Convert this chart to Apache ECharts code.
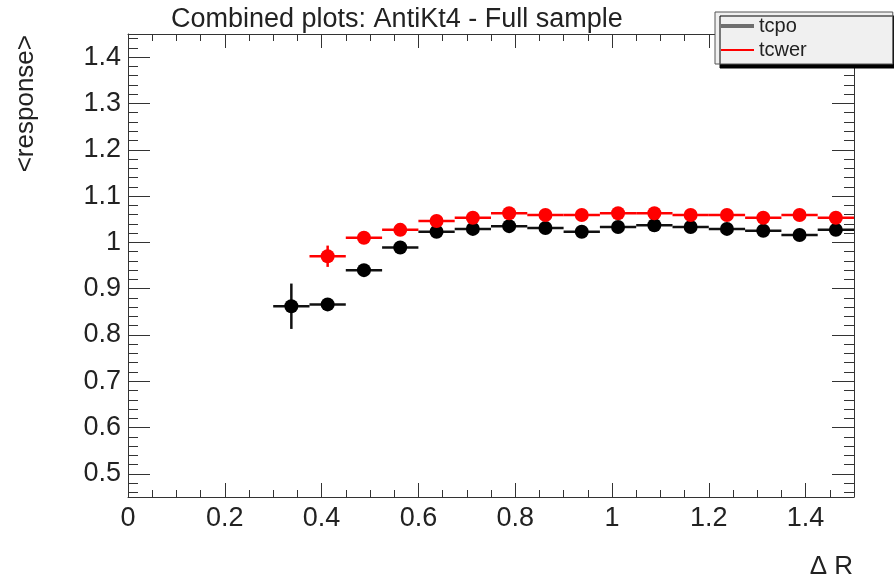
<!DOCTYPE html>
<html>
<head>
<meta charset="utf-8">
<script src="https://cdn.jsdelivr.net/npm/echarts@6/dist/echarts.min.js"></script>
<style>
  html, body { margin: 0; padding: 0; background: #fff; }
  #chart { width: 894px; height: 581px; }
</style>
</head>
<body>
<div id="chart"></div>
<script>
// bins in Delta R, width 0.075
var binCenters = [0.3375, 0.4125, 0.4875, 0.5625, 0.6375, 0.7125, 0.7875, 0.8625,
                  0.9375, 1.0125, 1.0875, 1.1625, 1.2375, 1.3125, 1.3875, 1.4625];
var binHalfWidth = 0.0375;

var tcpo    = [0.862, 0.866, 0.940, 0.989, 1.023, 1.029, 1.035, 1.031,
               1.023, 1.033, 1.037, 1.033, 1.029, 1.025, 1.016, 1.027];
var tcpoErr = [0.049, 0.007, 0.006, 0.006, 0.005, 0.005, 0.005, 0.005,
               0.005, 0.005, 0.005, 0.005, 0.005, 0.005, 0.005, 0.005];

var tcwer    = [null, 0.970, 1.010, 1.027, 1.046, 1.053, 1.063, 1.059,
                1.059, 1.063, 1.063, 1.059, 1.059, 1.053, 1.059, 1.053];
var tcwerErr = [null, 0.023, 0.008, 0.006, 0.005, 0.005, 0.005, 0.005,
                0.005, 0.005, 0.005, 0.005, 0.005, 0.005, 0.005, 0.005];

var FONT = "'Liberation Sans', Arial, Helvetica, sans-serif";
var AXIS_COLOR = "#333";

function pointData(vals, errs) {
  var out = [];
  for (var i = 0; i < vals.length; i++) {
    if (vals[i] == null) continue;
    out.push([binCenters[i], vals[i], errs[i]]);
  }
  return out;
}

// horizontal bar = bin width, vertical bar = error
function errorBars(color) {
  return function (params, api) {
    var x = api.value(0), y = api.value(1), e = api.value(2);
    var a = api.coord([x - binHalfWidth, y]);
    var b = api.coord([x + binHalfWidth, y]);
    var c = api.coord([x, y - e]);
    var d = api.coord([x, y + e]);
    return {
      type: "group",
      children: [
        { type: "line", shape: { x1: a[0], y1: a[1], x2: b[0], y2: b[1] },
          style: { stroke: color, lineWidth: 2.5 } },
        { type: "line", shape: { x1: c[0], y1: c[1], x2: d[0], y2: d[1] },
          style: { stroke: color, lineWidth: 2.5 } }
      ]
    };
  };
}

function majorX(pos, labels) {
  return {
    gridIndex: 0, type: "value", position: pos, min: 0, max: 1.5, interval: 0.2,
    axisLine: { show: true, onZero: false, lineStyle: { color: AXIS_COLOR, width: 1 } },
    axisTick: { show: true, inside: true, length: 14, lineStyle: { color: AXIS_COLOR } },
    axisLabel: {
      show: labels, showMaxLabel: false, margin: 8,
      color: "#222", fontSize: 27, fontFamily: FONT
    },
    splitLine: { show: false }
  };
}
function minorX(pos) {
  return {
    gridIndex: 1, type: "value", position: pos, min: 0, max: 1.5, interval: 0.05,
    axisLine: { show: false, onZero: false },
    axisTick: { show: true, inside: true, length: 7, lineStyle: { color: AXIS_COLOR } },
    axisLabel: { show: false },
    splitLine: { show: false }
  };
}
function majorY(pos, labels) {
  return {
    gridIndex: 0, type: "value", position: pos, min: 0.45, max: 1.45, splitNumber: 10,
    axisLine: { show: true, onZero: false, lineStyle: { color: AXIS_COLOR, width: 1 } },
    axisTick: { show: true, inside: true, length: 22, lineStyle: { color: AXIS_COLOR } },
    axisLabel: {
      show: labels, showMinLabel: false, showMaxLabel: false, margin: 7,
      color: "#222", fontSize: 27, fontFamily: FONT,
      formatter: function (v) {
        return Math.abs(v * 10 - Math.round(v * 10)) < 1e-6 ? String(+v.toFixed(1)) : "";
      }
    },
    splitLine: { show: false }
  };
}
function minorY(pos) {
  return {
    gridIndex: 1, type: "value", position: pos, min: 0.45, max: 1.45, splitNumber: 50,
    axisLine: { show: false, onZero: false },
    axisTick: { show: true, inside: true, length: 10, lineStyle: { color: AXIS_COLOR } },
    axisLabel: { show: false },
    splitLine: { show: false }
  };
}

var chart = echarts.init(document.getElementById("chart"));

var option = {
  animation: false,
  backgroundColor: "#fff",
  title: {
    text: "Combined plots: AntiKt4 - Full sample",
    left: 166, top: 1,
    textStyle: { fontSize: 27, fontWeight: "normal", color: "#222", fontFamily: FONT }
  },
  legend: {
    orient: "vertical",
    left: 715, top: 12,
    padding: [4, 86, 4, 6],
    itemGap: 4,
    itemWidth: 33, itemHeight: 14,
    symbolKeepAspect: true,
    backgroundColor: "#f0f0f0",
    borderColor: "#555", borderWidth: 1,
    shadowColor: "#000", shadowBlur: 0, shadowOffsetX: 5, shadowOffsetY: 4,
    textStyle: { fontSize: 20, color: "#222", fontFamily: FONT },
    data: [
      { name: "tcpo", icon: "path://M0,0L33,0L33,4L0,4Z", itemStyle: { color: "#6e6e6e" } },
      { name: "tcwer", icon: "path://M0,0L33,0L33,2L0,2Z", itemStyle: { color: "#ff0000" } }
    ]
  },
  grid: [
    { left: 128, top: 34, width: 726, height: 463, containLabel: false },
    { left: 128, top: 34, width: 726, height: 463, containLabel: false }
  ],
  xAxis: [majorX("bottom", true), majorX("top", false), minorX("bottom"), minorX("top")],
  yAxis: [majorY("left", true), majorY("right", false), minorY("left"), minorY("right")],
  graphic: [
    {
      type: "text", x: 26, y: 35, rotation: Math.PI / 2,
      style: { text: "<response>", font: "26px " + FONT, fill: "#222",
               textAlign: "right", textVerticalAlign: "middle" }
    },
    {
      type: "text", x: 853, y: 567,
      style: { text: "Δ R", font: "26px " + FONT, fill: "#222",
               textAlign: "right", textVerticalAlign: "middle" }
    }
  ],
  series: [
    {
      name: "tcpo", type: "custom", xAxisIndex: 0, yAxisIndex: 0,
      renderItem: errorBars("#111"), data: pointData(tcpo, tcpoErr),
      encode: { x: 0, y: 1 }, z: 2
    },
    {
      name: "tcwer", type: "custom", xAxisIndex: 0, yAxisIndex: 0,
      renderItem: errorBars("#ff0000"), data: pointData(tcwer, tcwerErr),
      encode: { x: 0, y: 1 }, z: 3
    },
    {
      name: "tcpo", type: "scatter", xAxisIndex: 0, yAxisIndex: 0,
      data: pointData(tcpo, tcpoErr), symbol: "circle", symbolSize: 14,
      itemStyle: { color: "#000", opacity: 1 }, z: 4
    },
    {
      name: "tcwer", type: "scatter", xAxisIndex: 0, yAxisIndex: 0,
      data: pointData(tcwer, tcwerErr), symbol: "circle", symbolSize: 14,
      itemStyle: { color: "#ff0000", opacity: 1 }, z: 5
    }
  ]
};

chart.setOption(option);
</script>
</body>
</html>
